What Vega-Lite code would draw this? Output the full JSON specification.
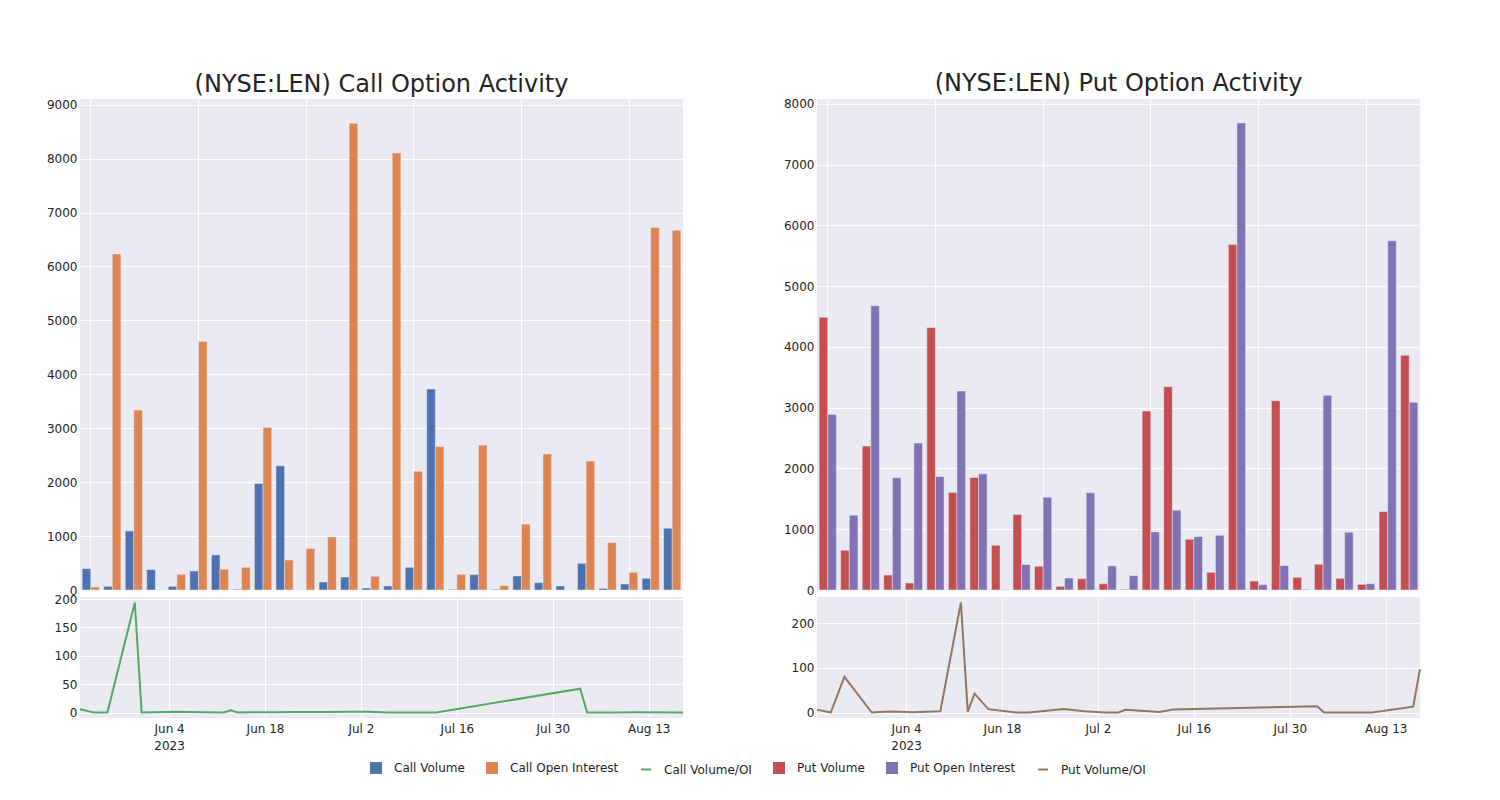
{
  "$schema": "https://vega.github.io/schema/vega-lite/v6.json",
  "background": "white",
  "padding": {"left": 46, "top": 71, "right": 0, "bottom": 0},
  "config": {
    "view": {"fill": "#EAEAF2", "stroke": null},
    "font": "DejaVu Sans",
    "axis": {"domain": false, "ticks": false, "tickSize": 0, "gridColor": "#FFFFFF", "gridWidth": 1, "gridOpacity": 1, "labelFont": "DejaVu Sans", "labelFontSize": 12, "labelColor": "#242424", "labelPadding": 3, "title": null},
    "legend": {"labelFont": "DejaVu Sans", "labelFontSize": 12, "labelColor": "#242424", "symbolStrokeWidth": 2, "symbolOpacity": 1},
    "title": {"font": "DejaVu Sans", "fontSize": 24, "fontWeight": "normal", "color": "#242424", "anchor": "middle"}
  },
  "datasets": {
    "callBars": [
      {"d":"2023-05-22","s":"Call Volume","v":396},{"d":"2023-05-22","s":"Call Open Interest","v":56},
      {"d":"2023-05-24","s":"Call Volume","v":68},{"d":"2023-05-24","s":"Call Open Interest","v":6229},
      {"d":"2023-05-26","s":"Call Volume","v":1096},{"d":"2023-05-26","s":"Call Open Interest","v":3337},
      {"d":"2023-05-30","s":"Call Volume","v":378},{"d":"2023-05-30","s":"Call Open Interest","v":2},
      {"d":"2023-05-31","s":"Call Volume","v":68},{"d":"2023-05-31","s":"Call Open Interest","v":291},
      {"d":"2023-06-02","s":"Call Volume","v":353},{"d":"2023-06-02","s":"Call Open Interest","v":4607},
      {"d":"2023-06-05","s":"Call Volume","v":650},{"d":"2023-06-05","s":"Call Open Interest","v":384},
      {"d":"2023-06-09","s":"Call Volume","v":12},{"d":"2023-06-09","s":"Call Open Interest","v":421},
      {"d":"2023-06-12","s":"Call Volume","v":1975},{"d":"2023-06-12","s":"Call Open Interest","v":3015},
      {"d":"2023-06-13","s":"Call Volume","v":2303},{"d":"2023-06-13","s":"Call Open Interest","v":557},
      {"d":"2023-06-14","s":"Call Volume","v":0},{"d":"2023-06-14","s":"Call Open Interest","v":768},
      {"d":"2023-06-16","s":"Call Volume","v":149},{"d":"2023-06-16","s":"Call Open Interest","v":985},
      {"d":"2023-06-20","s":"Call Volume","v":241},{"d":"2023-06-20","s":"Call Open Interest","v":8656},
      {"d":"2023-06-22","s":"Call Volume","v":37},{"d":"2023-06-22","s":"Call Open Interest","v":254},
      {"d":"2023-06-27","s":"Call Volume","v":74},{"d":"2023-06-27","s":"Call Open Interest","v":8105},
      {"d":"2023-06-30","s":"Call Volume","v":421},{"d":"2023-06-30","s":"Call Open Interest","v":2204},
      {"d":"2023-07-03","s":"Call Volume","v":3728},{"d":"2023-07-03","s":"Call Open Interest","v":2663},
      {"d":"2023-07-05","s":"Call Volume","v":12},{"d":"2023-07-05","s":"Call Open Interest","v":291},
      {"d":"2023-07-06","s":"Call Volume","v":285},{"d":"2023-07-06","s":"Call Open Interest","v":2687},
      {"d":"2023-07-11","s":"Call Volume","v":12},{"d":"2023-07-11","s":"Call Open Interest","v":80},
      {"d":"2023-07-12","s":"Call Volume","v":260},{"d":"2023-07-12","s":"Call Open Interest","v":1220},
      {"d":"2023-07-13","s":"Call Volume","v":136},{"d":"2023-07-13","s":"Call Open Interest","v":2520},
      {"d":"2023-08-03","s":"Call Volume","v":74},{"d":"2023-08-03","s":"Call Open Interest","v":2},
      {"d":"2023-08-04","s":"Call Volume","v":495},{"d":"2023-08-04","s":"Call Open Interest","v":2390},
      {"d":"2023-08-08","s":"Call Volume","v":31},{"d":"2023-08-08","s":"Call Open Interest","v":879},
      {"d":"2023-08-11","s":"Call Volume","v":111},{"d":"2023-08-11","s":"Call Open Interest","v":328},
      {"d":"2023-08-17","s":"Call Volume","v":217},{"d":"2023-08-17","s":"Call Open Interest","v":6724},
      {"d":"2023-08-18","s":"Call Volume","v":1146},{"d":"2023-08-18","s":"Call Open Interest","v":6669}
    ],
    "putBars": [
      {"d":"2023-05-22","s":"Put Volume","v":4489},{"d":"2023-05-22","s":"Put Open Interest","v":2890},
      {"d":"2023-05-24","s":"Put Volume","v":654},{"d":"2023-05-24","s":"Put Open Interest","v":1231},
      {"d":"2023-05-26","s":"Put Volume","v":2368},{"d":"2023-05-26","s":"Put Open Interest","v":4676},
      {"d":"2023-05-30","s":"Put Volume","v":247},{"d":"2023-05-30","s":"Put Open Interest","v":1846},
      {"d":"2023-05-31","s":"Put Volume","v":115},{"d":"2023-05-31","s":"Put Open Interest","v":2418},
      {"d":"2023-06-02","s":"Put Volume","v":4319},{"d":"2023-06-02","s":"Put Open Interest","v":1868},
      {"d":"2023-06-05","s":"Put Volume","v":1604},{"d":"2023-06-05","s":"Put Open Interest","v":3275},
      {"d":"2023-06-09","s":"Put Volume","v":1852},{"d":"2023-06-09","s":"Put Open Interest","v":1912},
      {"d":"2023-06-12","s":"Put Volume","v":736},{"d":"2023-06-12","s":"Put Open Interest","v":5},
      {"d":"2023-06-13","s":"Put Volume","v":1242},{"d":"2023-06-13","s":"Put Open Interest","v":418},
      {"d":"2023-06-14","s":"Put Volume","v":390},{"d":"2023-06-14","s":"Put Open Interest","v":1527},
      {"d":"2023-06-16","s":"Put Volume","v":60},{"d":"2023-06-16","s":"Put Open Interest","v":198},
      {"d":"2023-06-20","s":"Put Volume","v":187},{"d":"2023-06-20","s":"Put Open Interest","v":1599},
      {"d":"2023-06-22","s":"Put Volume","v":104},{"d":"2023-06-22","s":"Put Open Interest","v":396},
      {"d":"2023-06-27","s":"Put Volume","v":11},{"d":"2023-06-27","s":"Put Open Interest","v":236},
      {"d":"2023-06-30","s":"Put Volume","v":2945},{"d":"2023-06-30","s":"Put Open Interest","v":956},
      {"d":"2023-07-03","s":"Put Volume","v":3346},{"d":"2023-07-03","s":"Put Open Interest","v":1313},
      {"d":"2023-07-05","s":"Put Volume","v":835},{"d":"2023-07-05","s":"Put Open Interest","v":879},
      {"d":"2023-07-06","s":"Put Volume","v":291},{"d":"2023-07-06","s":"Put Open Interest","v":901},
      {"d":"2023-07-11","s":"Put Volume","v":5687},{"d":"2023-07-11","s":"Put Open Interest","v":7687},
      {"d":"2023-07-12","s":"Put Volume","v":148},{"d":"2023-07-12","s":"Put Open Interest","v":88},
      {"d":"2023-07-13","s":"Put Volume","v":3115},{"d":"2023-07-13","s":"Put Open Interest","v":401},
      {"d":"2023-08-03","s":"Put Volume","v":209},{"d":"2023-08-03","s":"Put Open Interest","v":11},
      {"d":"2023-08-04","s":"Put Volume","v":423},{"d":"2023-08-04","s":"Put Open Interest","v":3203},
      {"d":"2023-08-08","s":"Put Volume","v":192},{"d":"2023-08-08","s":"Put Open Interest","v":951},
      {"d":"2023-08-11","s":"Put Volume","v":93},{"d":"2023-08-11","s":"Put Open Interest","v":104},
      {"d":"2023-08-17","s":"Put Volume","v":1291},{"d":"2023-08-17","s":"Put Open Interest","v":5747},
      {"d":"2023-08-18","s":"Put Volume","v":3863},{"d":"2023-08-18","s":"Put Open Interest","v":3088}
    ],
    "callRatio": [
      {"d":"2023-05-22","s":"Call Volume/OI","v":5.9},{"d":"2023-05-24","s":"Call Volume/OI","v":0},
      {"d":"2023-05-26","s":"Call Volume/OI","v":0},{"d":"2023-05-30","s":"Call Volume/OI","v":194},
      {"d":"2023-05-31","s":"Call Volume/OI","v":0},{"d":"2023-06-02","s":"Call Volume/OI","v":0.5},
      {"d":"2023-06-05","s":"Call Volume/OI","v":1.5},{"d":"2023-06-09","s":"Call Volume/OI","v":0.3},
      {"d":"2023-06-12","s":"Call Volume/OI","v":0},{"d":"2023-06-13","s":"Call Volume/OI","v":4},
      {"d":"2023-06-14","s":"Call Volume/OI","v":0},{"d":"2023-06-16","s":"Call Volume/OI","v":0.3},
      {"d":"2023-06-20","s":"Call Volume/OI","v":0.5},{"d":"2023-06-22","s":"Call Volume/OI","v":0.8},
      {"d":"2023-06-27","s":"Call Volume/OI","v":1},{"d":"2023-06-30","s":"Call Volume/OI","v":1.5},
      {"d":"2023-07-03","s":"Call Volume/OI","v":1.4},{"d":"2023-07-05","s":"Call Volume/OI","v":0.5},
      {"d":"2023-07-06","s":"Call Volume/OI","v":0.1},{"d":"2023-07-11","s":"Call Volume/OI","v":0.1},
      {"d":"2023-07-12","s":"Call Volume/OI","v":0.2},{"d":"2023-07-13","s":"Call Volume/OI","v":0},
      {"d":"2023-08-03","s":"Call Volume/OI","v":42},{"d":"2023-08-04","s":"Call Volume/OI","v":0},
      {"d":"2023-08-08","s":"Call Volume/OI","v":0},{"d":"2023-08-11","s":"Call Volume/OI","v":0.3},
      {"d":"2023-08-17","s":"Call Volume/OI","v":0},{"d":"2023-08-18","s":"Call Volume/OI","v":0.2}
    ],
    "putRatio": [
      {"d":"2023-05-22","s":"Put Volume/OI","v":6.5},{"d":"2023-05-24","s":"Put Volume/OI","v":0},
      {"d":"2023-05-26","s":"Put Volume/OI","v":80},{"d":"2023-05-30","s":"Put Volume/OI","v":0},
      {"d":"2023-05-31","s":"Put Volume/OI","v":1},{"d":"2023-06-02","s":"Put Volume/OI","v":2},
      {"d":"2023-06-05","s":"Put Volume/OI","v":0.5},{"d":"2023-06-09","s":"Put Volume/OI","v":3},
      {"d":"2023-06-12","s":"Put Volume/OI","v":247},{"d":"2023-06-13","s":"Put Volume/OI","v":2},
      {"d":"2023-06-14","s":"Put Volume/OI","v":42.5},{"d":"2023-06-16","s":"Put Volume/OI","v":7.5},
      {"d":"2023-06-20","s":"Put Volume/OI","v":0},{"d":"2023-06-22","s":"Put Volume/OI","v":0},
      {"d":"2023-06-27","s":"Put Volume/OI","v":8},{"d":"2023-06-30","s":"Put Volume/OI","v":3},
      {"d":"2023-07-03","s":"Put Volume/OI","v":0},{"d":"2023-07-05","s":"Put Volume/OI","v":0},
      {"d":"2023-07-06","s":"Put Volume/OI","v":6},{"d":"2023-07-11","s":"Put Volume/OI","v":1},
      {"d":"2023-07-12","s":"Put Volume/OI","v":4},{"d":"2023-07-13","s":"Put Volume/OI","v":7},
      {"d":"2023-08-03","s":"Put Volume/OI","v":14},{"d":"2023-08-04","s":"Put Volume/OI","v":0},
      {"d":"2023-08-08","s":"Put Volume/OI","v":0},{"d":"2023-08-11","s":"Put Volume/OI","v":0},
      {"d":"2023-08-17","s":"Put Volume/OI","v":13},{"d":"2023-08-18","s":"Put Volume/OI","v":97}
    ]
  },
  "hconcat": [
    {
      "vconcat": [
        {
          "title": {"text": "(NYSE:LEN) Call Option Activity", "offset": 2},
          "data": {"name": "callBars"},
          "width": 603, "height": 491,
          "mark": {"type": "bar", "stroke": "#EAEAF2", "strokeWidth": 0.5},
          "encoding": {
            "x": {"field": "d", "type": "ordinal", "scale": {"paddingInner": 0.2, "paddingOuter": 0.1},
                  "axis": {"values": ["2023-05-22","2023-06-02","2023-06-14","2023-06-30","2023-07-12","2023-08-11"], "labels": false, "grid": true, "bandPosition": 0.5}},
            "xOffset": {"field": "s", "type": "nominal", "scale": {"domain": ["Call Volume", "Call Open Interest"], "paddingInner": 0, "paddingOuter": 0}},
            "y": {"field": "v", "type": "quantitative", "scale": {"domain": [0, 9105], "nice": false},
                  "axis": {"values": [0,1000,2000,3000,4000,5000,6000,7000,8000,9000], "format": "d"}},
            "color": {"field": "s", "type": "nominal",
              "scale": {"domain": ["Call Volume","Call Open Interest","Call Volume/OI","Put Volume","Put Open Interest","Put Volume/OI"],
                        "range": ["#4C72B0","#DD8452","#55A868","#C44E52","#8172B3","#937860"]},
              "legend": {"title": null, "orient": "none", "legendX": 290, "legendY": 663, "direction": "horizontal", "labelOffset": 12, "columnPadding": 18, "symbolOpacity": 1, "symbolStrokeWidth": 2}
            }
          }
        },
        {
          "data": {"name": "callRatio"},
          "width": 603, "height": 121,
          "encoding": {
            "x": {"field": "d", "type": "temporal",
                  "scale": {"type": "utc", "nice": false, "domain": [{"year": 2023, "month": 5, "date": 22, "utc": true}, {"year": 2023, "month": 8, "date": 18, "utc": true}]},
                  "axis": {"values": [{"year": 2023, "month": 6, "date": 4, "utc": true}, {"year": 2023, "month": 6, "date": 18, "utc": true}, {"year": 2023, "month": 7, "date": 2, "utc": true}, {"year": 2023, "month": 7, "date": 16, "utc": true}, {"year": 2023, "month": 7, "date": 30, "utc": true}, {"year": 2023, "month": 8, "date": 13, "utc": true}],
                           "labelExpr": "[utcFormat(datum.value, '%b %-d'), (utcmonth(datum.value) == 5 && utcdate(datum.value) == 4) ? '2023' : '']",
                           "labelLineHeight": 17, "labelPadding": 5, "grid": true}},
            "y": {"field": "v", "type": "quantitative", "scale": {"domain": [-9.7, 203.7], "nice": false, "zero": false},
                  "axis": {"values": [0, 50, 100, 150, 200], "format": "d"}}
          },
          "layer": [
            {
              "mark": {"type": "line", "strokeWidth": 2},
              "encoding": {
                "color": {"field": "s", "type": "nominal",
                  "scale": {"domain": ["Call Volume","Call Open Interest","Call Volume/OI","Put Volume","Put Open Interest","Put Volume/OI"],
                            "range": ["#4C72B0","#DD8452","#55A868","#C44E52","#8172B3","#937860"]}}
              }
            },
            {
              "mark": {"type": "point", "opacity": 0, "filled": true},
              "encoding": {
                "shape": {"field": "s", "type": "nominal",
                  "scale": {"domain": ["Call Volume","Call Open Interest","Call Volume/OI","Put Volume","Put Open Interest","Put Volume/OI"],
                            "range": ["square","square","stroke","square","square","stroke"]},
                  "legend": {"title": null, "orient": "none", "legendX": 290, "legendY": 663, "direction": "horizontal", "labelOffset": 12, "columnPadding": 18, "symbolOpacity": 1, "symbolStrokeWidth": 2}},
                "size": {"field": "s", "type": "nominal",
                  "scale": {"domain": ["Call Volume","Call Open Interest","Call Volume/OI","Put Volume","Put Open Interest","Put Volume/OI"],
                            "range": [100, 100, 2116, 100, 100, 2116]},
                  "legend": {"title": null, "orient": "none", "legendX": 290, "legendY": 663, "direction": "horizontal", "labelOffset": 12, "columnPadding": 18, "symbolOpacity": 1, "symbolStrokeWidth": 2}}
              }
            }
          ]
        }
      ],
      "spacing": 7,
      "bounds": "flush"
    },
    {
      "vconcat": [
        {
          "title": {"text": "(NYSE:LEN) Put Option Activity", "offset": 2},
          "data": {"name": "putBars"},
          "width": 603, "height": 491,
          "mark": {"type": "bar", "stroke": "#EAEAF2", "strokeWidth": 0.5},
          "encoding": {
            "x": {"field": "d", "type": "ordinal", "scale": {"paddingInner": 0.2, "paddingOuter": 0.1},
                  "axis": {"values": ["2023-05-22","2023-06-02","2023-06-14","2023-06-30","2023-07-12","2023-08-11"], "labels": false, "grid": true, "bandPosition": 0.5}},
            "xOffset": {"field": "s", "type": "nominal", "scale": {"domain": ["Put Volume", "Put Open Interest"], "paddingInner": 0, "paddingOuter": 0}},
            "y": {"field": "v", "type": "quantitative", "scale": {"domain": [0, 8080], "nice": false},
                  "axis": {"values": [0,1000,2000,3000,4000,5000,6000,7000,8000], "format": "d"}},
            "color": {"field": "s", "type": "nominal",
              "scale": {"domain": ["Call Volume","Call Open Interest","Call Volume/OI","Put Volume","Put Open Interest","Put Volume/OI"],
                        "range": ["#4C72B0","#DD8452","#55A868","#C44E52","#8172B3","#937860"]}}
          }
        },
        {
          "data": {"name": "putRatio"},
          "width": 603, "height": 121,
          "mark": {"type": "line", "strokeWidth": 2},
          "encoding": {
            "x": {"field": "d", "type": "temporal",
                  "scale": {"type": "utc", "nice": false, "domain": [{"year": 2023, "month": 5, "date": 22, "utc": true}, {"year": 2023, "month": 8, "date": 18, "utc": true}]},
                  "axis": {"values": [{"year": 2023, "month": 6, "date": 4, "utc": true}, {"year": 2023, "month": 6, "date": 18, "utc": true}, {"year": 2023, "month": 7, "date": 2, "utc": true}, {"year": 2023, "month": 7, "date": 16, "utc": true}, {"year": 2023, "month": 7, "date": 30, "utc": true}, {"year": 2023, "month": 8, "date": 13, "utc": true}],
                           "labelExpr": "[utcFormat(datum.value, '%b %-d'), (utcmonth(datum.value) == 5 && utcdate(datum.value) == 4) ? '2023' : '']",
                           "labelLineHeight": 17, "labelPadding": 5, "grid": true}},
            "y": {"field": "v", "type": "quantitative", "scale": {"domain": [-12.35, 259.35], "nice": false, "zero": false},
                  "axis": {"values": [0, 100, 200], "format": "d"}},
            "color": {"field": "s", "type": "nominal",
              "scale": {"domain": ["Call Volume","Call Open Interest","Call Volume/OI","Put Volume","Put Open Interest","Put Volume/OI"],
                        "range": ["#4C72B0","#DD8452","#55A868","#C44E52","#8172B3","#937860"]}}
          }
        }
      ],
      "spacing": 7,
      "bounds": "flush"
    }
  ],
  "spacing": 95,
  "resolve": {"scale": {"color": "shared", "shape": "shared", "size": "shared", "x": "independent", "y": "independent", "xOffset": "independent"}, "legend": {"color": "shared", "shape": "shared", "size": "shared"}}
}
